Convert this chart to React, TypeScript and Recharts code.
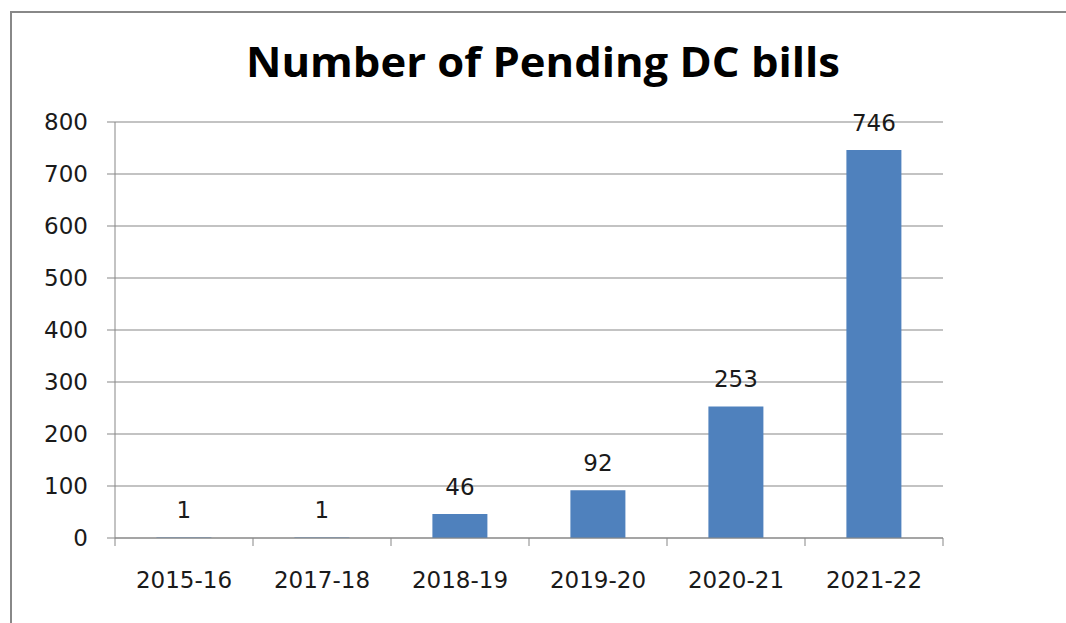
import React from 'react';
import { BarChart, Bar, XAxis, YAxis, CartesianGrid, LabelList } from 'recharts';

const categories = ['2015-16', '2017-18', '2018-19', '2019-20', '2020-21', '2021-22'];
const pendingBills = [1, 1, 46, 92, 253, 746];
const yTicks = [0, 100, 200, 300, 400, 500, 600, 700, 800];
const titleText = 'Number of Pending DC bills';

const data = categories.map((c, i) => ({ year: c, value: pendingBills[i] }));

const FONT = '"DejaVu Sans", sans-serif';
const GRID = '#878787';
const FS = 23;

const XTick = (props: any) => {
  const { x, y, payload, index, visibleTicksCount } = props;
  const off = payload && payload.offset != null ? payload.offset : 0;
  const axisY = y - 34;
  const isLast = index === (visibleTicksCount ?? categories.length) - 1;
  return (
    <g>
      <line x1={x - off} x2={x - off} y1={axisY} y2={axisY + 8} stroke={GRID} strokeWidth={1} />
      {isLast && <line x1={x + off} x2={x + off} y1={axisY} y2={axisY + 8} stroke={GRID} strokeWidth={1} />}
      <text x={x} y={y} dy="0.71em" textAnchor="middle" fontFamily={FONT} fontSize={FS} fill="#1a1a1a">
        {payload.value}
      </text>
    </g>
  );
};

export default function App() {
  return (
    <div style={{ position: 'absolute', left: 0, top: 0, width: 1066, height: 623, background: '#fff', overflow: 'hidden' }}>
      <div
        style={{
          position: 'absolute',
          left: 10,
          top: 11,
          width: 1100,
          height: 700,
          borderLeft: '2px solid #888',
          borderTop: '2px solid #888',
          boxSizing: 'border-box',
        }}
      />
      <svg width={1066} height={623} style={{ position: 'absolute', left: 0, top: 0 }}>
        <text
          x={543}
          y={77}
          textAnchor="middle"
          fontFamily='"Open Sans", sans-serif'
          fontWeight={700}
          fontSize={41}
          fill="#000"
          textLength={594}
          lengthAdjust="spacingAndGlyphs"
        >
          {titleText}
        </text>
      </svg>
      <div style={{ position: 'absolute', left: 0, top: 0 }}>
        <BarChart
          width={1066}
          height={623}
          data={data}
          margin={{ top: 122, right: 123, bottom: 25, left: 10 }}
          barCategoryGap="30%"
        >
          <CartesianGrid horizontal vertical={false} stroke={GRID} strokeWidth={1} />
          <XAxis
            dataKey="year"
            height={60}
            tickLine={false}
            tickSize={8}
            tickMargin={26}
            axisLine={{ stroke: GRID }}
            interval={0}
            tick={<XTick />}
          />
          <YAxis
            width={105}
            domain={[0, 800]}
            ticks={yTicks}
            tickSize={8}
            tickMargin={19}
            tickLine={{ stroke: GRID }}
            axisLine={{ stroke: GRID }}
            tick={{ fontFamily: FONT, fontSize: FS, fill: '#1a1a1a' }}
            interval={0}
          />
          <Bar dataKey="value" fill="#4F81BD" isAnimationActive={false}>
            <LabelList
              dataKey="value"
              position="top"
              offset={19}
              style={{ fontFamily: FONT, fontSize: FS, fill: '#1a1a1a' }}
            />
          </Bar>
        </BarChart>
      </div>
    </div>
  );
}
